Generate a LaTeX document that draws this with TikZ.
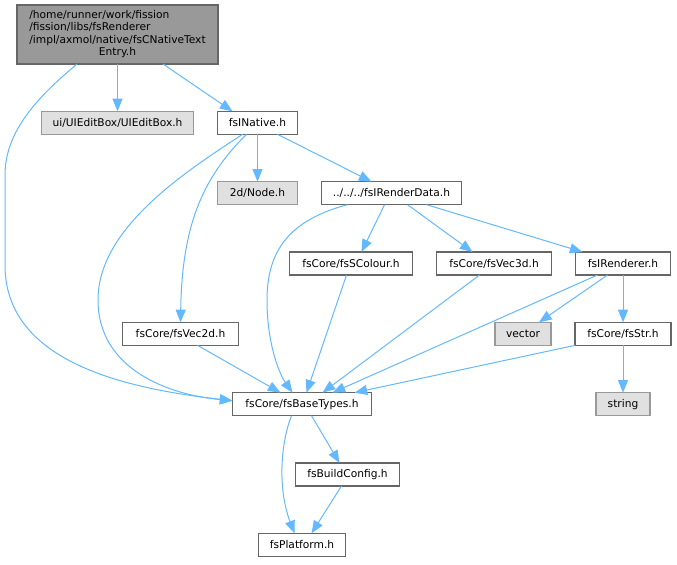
\documentclass[tikz,border=0pt]{standalone}
\usepackage{fontspec}
\setmainfont{DejaVu Sans}
\usepackage{tikz}
\usetikzlibrary{positioning,arrows.meta,calc}
\definecolor{coloredge}     {RGB}{ 99,184,255}
\definecolor{colorroot}     {RGB}{153,153,153}
\definecolor{colorext}      {RGB}{224,224,224}
\definecolor{colorborder}   {RGB}{102,102,102}
\definecolor{colorextborder}{RGB}{153,153,153}

\begin{document}
\begin{tikzpicture}[
    x=0.75pt, y=-0.75pt,
    node distance = 35.5pt and 18pt,
    font={\fontsize{8}{9.2}\selectfont},
    base/.style={text=black,draw=colorborder,line width=0.8pt,inner sep=0pt,outer sep=0pt,minimum height=17.25pt,align=center,rectangle},
    file/.style={base,fill=white},
    ext/.style={base,fill=colorext,draw=colorextborder},
    root/.style={base,fill=colorroot,minimum height=44.25pt},
    incl/.style={draw=coloredge,line width=0.75pt,-{Triangle[length=9.5pt,width=7.5pt]}},
]
    \useasboundingbox (0,0) rectangle (677,564);

    \node[root,minimum width=150.75pt] at (117.5,34.5) (entry)
        {\begin{tabular}{@{}l@{}}/home/runner/work/fission\\/fission/libs/fsRenderer\\/impl/axmol/native/fsCNativeText\\\multicolumn{1}{@{}c@{}}{Entry.h}\end{tabular}};

    \node[ext,minimum width=114pt,below=of entry]       (uiedit)     {ui/UIEditBox/UIEditBox.h};
    \node[file,minimum width=60pt,right=of uiedit]      (fsinative)  {fsINative.h};

    \node[ext,minimum width=60pt,below=of fsinative]    (nodeh)      {2d/Node.h};
    \node[file,minimum width=105pt,right=of nodeh]      (renderdata) {../../../fsIRenderData.h};

    \node[file,minimum width=92.25pt,below=of renderdata,xshift=-30.375pt] (scolour) {fsCore/fsSColour.h};
    \node[file,minimum width=86.25pt,right=of scolour]  (vec3d)      {fsCore/fsVec3d.h};
    \node[file,minimum width=71.25pt,right=of vec3d]    (irenderer)  {fsIRenderer.h};

    \node[file,minimum width=87pt,below=of scolour,xshift=-127.875pt] (vec2d) {fsCore/fsVec2d.h};
    \node[file,minimum width=72pt,below=of irenderer]   (fsstr)      {fsCore/fsStr.h};
    \node[ext,minimum width=42pt,left=of fsstr]         (vector)     {vector};

    \node[file,minimum width=104.25pt,below=of vec2d,xshift=91.125pt] (basetypes) {fsCore/fsBaseTypes.h};
    \node[ext,minimum width=40.5pt,below=of fsstr]      (string)     {string};

    \node[file,minimum width=78pt,below=of basetypes,xshift=34.125pt] (buildconfig) {fsBuildConfig.h};
    \node[file,minimum width=65.25pt,below=of buildconfig,xshift=-34.125pt] (platform) {fsPlatform.h};

    \draw[incl](entry.south) -- (uiedit.north);
    \draw[incl]($(entry.south)+(45.5,0)$) -- ($(fsinative.north)+(-25,0)$);
    \draw[incl]($(entry.south)+(-40.5,0)$) .. controls (40,95) and (5,130) .. (5,175) -- (5,265) .. controls (5,360) and (120,388) .. ($(basetypes.west)+(0,-3.5)$);

    \draw[incl](fsinative.south) -- (nodeh.north);
    \draw[incl]($(fsinative.south)+(20,0)$) -- ($(renderdata.north)+(-20,0)$);
    \draw[incl]($(fsinative.south)+(-11,0)$) .. controls (200,180) and (182,230) .. (vec2d.north);
    \draw[incl]($(fsinative.south)+(-15,0)$) .. controls (180,175) and (98,230) .. (98,300) .. controls (98,370) and (170,395) .. ($(basetypes.west)+(0,-3.5)$);

    \draw[incl]($(renderdata.south)+(-44,0)$) .. controls (290,220) and (267,250) .. (267,300) .. controls (267,345) and (280,375) .. ($(basetypes.north)+(-9.5,0)$);
    \draw[incl]($(renderdata.south)+(-7,0)$) -- ($(scolour.north)+(10.5,0)$);
    \draw[incl]($(renderdata.south)+(16,0)$) -- ($(vec3d.north)+(-21.5,0)$);
    \draw[incl]($(renderdata.south)+(35,0)$) -- ($(irenderer.north)+(-40.5,0)$);

    \draw[incl]($(scolour.south)+(-4.5,0)$) -- ($(basetypes.north)+(4.5,0)$);
    \draw[incl]($(vec3d.south)+(-14.5,0)$) -- ($(basetypes.north)+(20.5,0)$);
    \draw[incl]($(irenderer.south)+(-25.5,0)$) -- ($(basetypes.north)+(30.5,0)$);
    \draw[incl]($(irenderer.south)+(-15.5,0)$) -- ($(vector.north)+(16,0)$);
    \draw[incl](irenderer.south) -- (fsstr.north);

    \draw[incl]($(vec2d.south)+(17,0)$) -- ($(basetypes.north)+(-21.5,0)$);
    \draw[incl]($(fsstr.south)+(-48,0)$) -- ($(basetypes.north)+(52.5,0)$);
    \draw[incl](fsstr.south) -- (string.north);

    \draw[incl]($(basetypes.south)+(9.5,0)$) -- ($(buildconfig.north)+(-8,0)$);
    \draw[incl]($(basetypes.south)+(-10.5,0)$) .. controls (280,445) and (278,490) .. ($(platform.north)+(-7.5,0)$);
    \draw[incl]($(buildconfig.south)+(-6,0)$) -- ($(platform.north)+(9.5,0)$);

\end{tikzpicture}
\end{document}
